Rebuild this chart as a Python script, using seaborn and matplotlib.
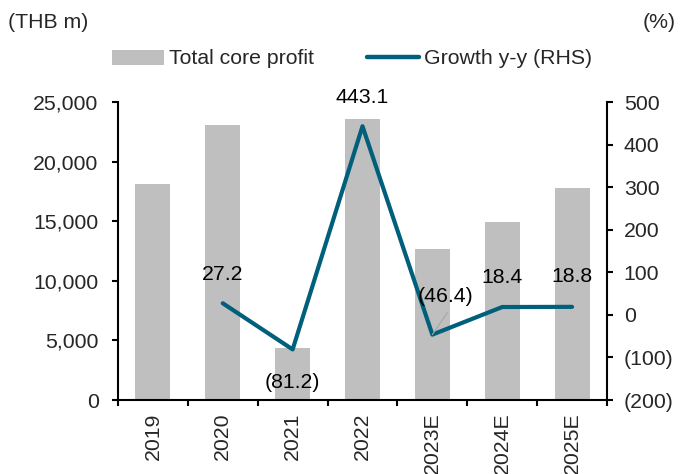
import matplotlib
matplotlib.use("Agg")
import matplotlib.pyplot as plt
import seaborn as sns
import numpy as np
import pandas as pd
from matplotlib.patches import Patch
from matplotlib.lines import Line2D

years = ["2019", "2020", "2021", "2022", "2023E", "2024E", "2025E"]
core_profit = [18100, 23050, 4340, 23570, 12630, 14960, 17770]
growth_years = ["2020", "2021", "2022", "2023E", "2024E", "2025E"]
growth = [27.2, -81.2, 443.1, -46.4, 18.4, 18.8]
growth_labels = ["27.2", "(81.2)", "443.1", "(46.4)", "18.4", "18.8"]
left_ticks = [0, 5000, 10000, 15000, 20000, 25000]
right_ticks = [-200, -100, 0, 100, 200, 300, 400, 500]

sns.set_theme(style="white")
plt.rcParams['font.family'] = ['Liberation Sans', 'DejaVu Sans']
FS = 15.3

BAR = "#BFBFBF"
LINE = "#005F7A"

fig = plt.figure(figsize=(6.8, 4.74), dpi=100)
ax = fig.add_axes([118/680, 1-400/474, (607-118)/680, (400-102)/474])

df = pd.DataFrame({"year": years, "profit": core_profit})
sns.barplot(data=df, x="year", y="profit", color=BAR, width=0.5, ax=ax,
            saturation=1, edgecolor="none")
ax.set_xlim(-0.5, len(years) - 0.5)
ax.set_ylim(0, 25000)
ax.set_yticks(left_ticks)
ax.set_yticklabels([f"{v:,}" for v in left_ticks], fontsize=FS)
ax.set_xlabel("")
ax.set_ylabel("")
ax.set_xticks(range(len(years)))
ax.set_xticklabels(years, rotation=90, fontsize=FS)
ax.set_xticks(np.arange(-0.5, len(years), 1.0), minor=True)
ax.tick_params(axis="x", which="major", length=0, pad=9)
ax.tick_params(axis="x", which="minor", bottom=True, length=4, width=1.5, color="black", direction="out")
ax.tick_params(axis="y", which="major", left=True, length=4, width=1.5, color="black",
               direction="out", pad=10)

for s in ["top", "right"]:
    ax.spines[s].set_visible(False)
for s in ["left", "bottom"]:
    ax.spines[s].set_color("black")
    ax.spines[s].set_linewidth(1.5)

ax2 = ax.twinx()
gx = [years.index(y) for y in growth_years]
sns.lineplot(x=gx, y=growth, color=LINE, linewidth=3.0, ax=ax2)
ax2.set_ylim(-200, 500)
ax2.set_yticks(right_ticks)
ax2.set_yticklabels([f"({abs(v)})" if v < 0 else f"{v}" for v in right_ticks], fontsize=FS)
ax2.tick_params(axis="y", which="major", right=True, length=4, width=1.5, color="black",
                direction="out", pad=8)
for s in ["top", "left", "bottom"]:
    ax2.spines[s].set_visible(False)
ax2.spines["right"].set_color("black")
ax2.spines["right"].set_linewidth(1.5)
ax2.set_xlim(-0.5, len(years) - 0.5)

offsets = [(0, 29), (0, -33), (0, 29), (13, 38), (0, 30), (0, 30)]
for x, y, lab, (dx, dy) in zip(gx, growth, growth_labels, offsets):
    ax2.annotate(lab, (x, y), xytext=(dx, dy), textcoords="offset pixels",
                 ha="center", va="center", fontsize=FS, color="black",
                 annotation_clip=False)
# leader line for (46.4)
i = growth_years.index("2023E")
ax2.annotate("", (gx[i], growth[i]), xytext=(15, 22), textcoords="offset pixels",
             arrowprops=dict(arrowstyle="-", color="#A6A6A6", lw=0.8,
                             shrinkA=0, shrinkB=0))

handles = [Patch(facecolor=BAR, edgecolor="none"),
           Line2D([0], [0], color=LINE, lw=3.2, solid_capstyle="round")]
fig.legend(handles, ["Total core profit", "Growth y-y (RHS)"], loc="center",
           bbox_to_anchor=(352/680, 1-59/474), ncol=2, frameon=False, fontsize=FS,
           handlelength=2.45, handleheight=0.7, columnspacing=2.5, handletextpad=0.25,
           borderaxespad=0, borderpad=0)

fig.text(8/680, 1-22/474, "(THB m)", fontsize=FS, ha="left", va="center")
fig.text(676/680, 1-22/474, "(%)", fontsize=FS, ha="right", va="center")

fig.savefig("out.png", dpi=100)
